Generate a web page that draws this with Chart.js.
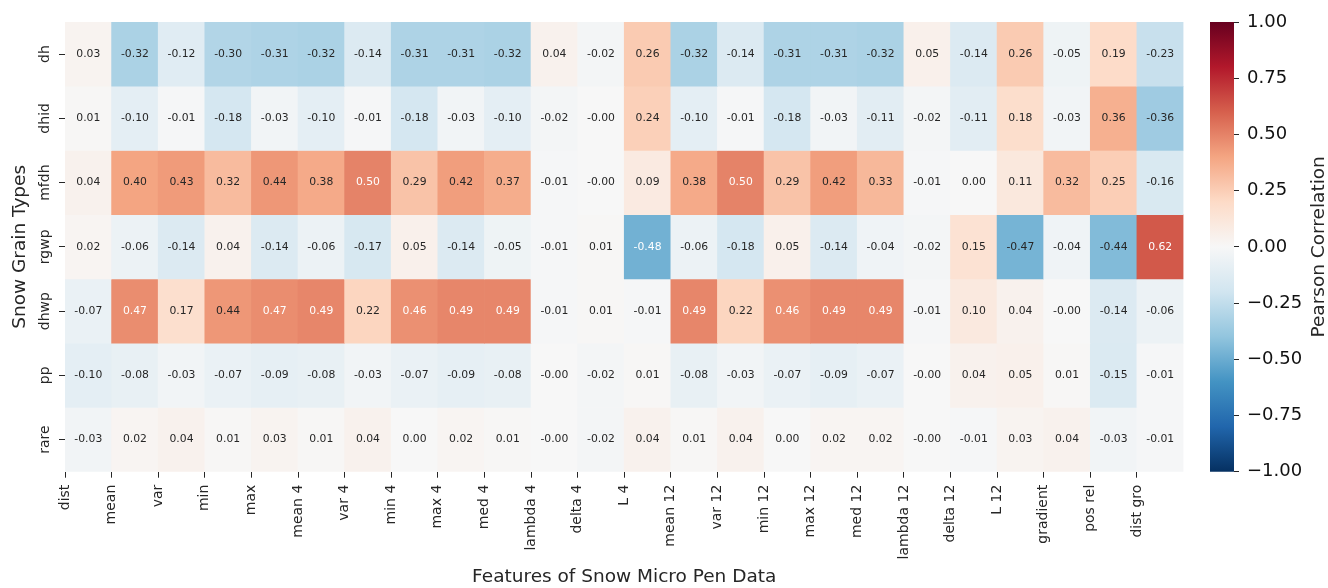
<!DOCTYPE html>
<html>
<head>
<meta charset="utf-8">
<script src="https://cdn.jsdelivr.net/npm/chart.js@4.4.1/dist/chart.umd.min.js"></script>
<style>
  html, body { margin: 0; padding: 0; background: #fff; }
  #wrap { position: relative; width: 1328px; height: 588px; }
  #heat { position: absolute; left: 0; top: 0; }
  #cbar { position: absolute; left: 1190px; top: 0; }
</style>
</head>
<body>
<div id="wrap">
  <canvas id="heat" width="1328" height="588"></canvas>
  <canvas id="cbar" width="138" height="588"></canvas>
</div>
<script>
const features = ['dist', 'mean', 'var', 'min', 'max', 'mean 4', 'var 4', 'min 4', 'max 4', 'med 4',
  'lambda 4', 'delta 4', 'L 4', 'mean 12', 'var 12', 'min 12', 'max 12', 'med 12', 'lambda 12',
  'delta 12', 'L 12', 'gradient', 'pos rel', 'dist gro'];
const grainTypes = ['dh', 'dhid', 'mfdh', 'rgwp', 'dhwp', 'pp', 'rare'];

// correlation per grain type (one value per feature); -0.002 stands for a printed "-0.00"
const dh   = [0.03, -0.32, -0.12, -0.30, -0.31, -0.32, -0.14, -0.31, -0.31, -0.32, 0.04, -0.02, 0.26, -0.32, -0.14, -0.31, -0.31, -0.32, 0.05, -0.14, 0.26, -0.05, 0.19, -0.23];
const dhid = [0.01, -0.10, -0.01, -0.18, -0.03, -0.10, -0.01, -0.18, -0.03, -0.10, -0.02, -0.002, 0.24, -0.10, -0.01, -0.18, -0.03, -0.11, -0.02, -0.11, 0.18, -0.03, 0.36, -0.36];
const mfdh = [0.04, 0.40, 0.43, 0.32, 0.44, 0.38, 0.50, 0.29, 0.42, 0.37, -0.01, -0.002, 0.09, 0.38, 0.50, 0.29, 0.42, 0.33, -0.01, 0.00, 0.11, 0.32, 0.25, -0.16];
const rgwp = [0.02, -0.06, -0.14, 0.04, -0.14, -0.06, -0.17, 0.05, -0.14, -0.05, -0.01, 0.01, -0.48, -0.06, -0.18, 0.05, -0.14, -0.04, -0.02, 0.15, -0.47, -0.04, -0.44, 0.62];
const dhwp = [-0.07, 0.47, 0.17, 0.44, 0.47, 0.49, 0.22, 0.46, 0.49, 0.49, -0.01, 0.01, -0.01, 0.49, 0.22, 0.46, 0.49, 0.49, -0.01, 0.10, 0.04, -0.002, -0.14, -0.06];
const pp   = [-0.10, -0.08, -0.03, -0.07, -0.09, -0.08, -0.03, -0.07, -0.09, -0.08, -0.002, -0.02, 0.01, -0.08, -0.03, -0.07, -0.09, -0.07, -0.002, 0.04, 0.05, 0.01, -0.15, -0.01];
const rare = [-0.03, 0.02, 0.04, 0.01, 0.03, 0.01, 0.04, 0.00, 0.02, 0.01, -0.002, -0.02, 0.04, 0.01, 0.04, 0.00, 0.02, 0.02, -0.002, -0.01, 0.03, 0.04, -0.03, -0.01];
const rows = [dh, dhid, mfdh, rgwp, dhwp, pp, rare];

const cbarMin = -1, cbarMax = 1, cbarStep = 0.25;

// RdBu_r
const rdbu = ['#053061', '#2166ac', '#4393c3', '#92c5de', '#d1e5f0', '#f7f7f7',
  '#fddbc7', '#f4a582', '#d6604d', '#b2182b', '#67001f'];
const rdbuRgb = rdbu.map(h => [1, 3, 5].map(i => parseInt(h.substr(i, 2), 16)));

function cmap(v) {
  let t = (v - cbarMin) / (cbarMax - cbarMin) * 10;
  t = Math.max(0, Math.min(10, t));
  const i = Math.min(9, Math.floor(t)), f = t - i;
  const a = rdbuRgb[i], b = rdbuRgb[i + 1];
  return a.map((c, k) => Math.round(c + (b[k] - c) * f));
}
function lum(rgb) {
  const l = rgb.map(c => { c /= 255; return c <= 0.03928 ? c / 12.92 : Math.pow((c + 0.055) / 1.055, 2.4); });
  return 0.2126 * l[0] + 0.7152 * l[1] + 0.0722 * l[2];
}

const FONT = 'DejaVu Sans';
const INK = '#262626';

// cell labels
const annotate = {
  id: 'annotate',
  afterDatasetsDraw(chart) {
    const ctx = chart.ctx;
    ctx.save();
    ctx.font = '10.8px "' + FONT + '"';
    ctx.textAlign = 'center';
    ctx.textBaseline = 'middle';
    chart.data.datasets.forEach((ds, r) => {
      chart.getDatasetMeta(r).data.forEach((bar, c) => {
        const p = bar.getProps(['x', 'y', 'base'], true);
        const v = rows[r][c];
        ctx.fillStyle = lum(cmap(v)) > 0.408 ? INK : '#ffffff';
        ctx.fillText(v.toFixed(2), p.x, (p.y + p.base) / 2);
      });
    });
    ctx.restore();
  }
};

new Chart(document.getElementById('heat'), {
  type: 'bar',
  data: {
    datasets: grainTypes.map((name, r) => ({
      label: name,
      data: rows[r].map((v, c) => ({ x: c + 0.5, y: 1 })),
      backgroundColor: rows[r].map(v => 'rgb(' + cmap(v).join(',') + ')'),
      borderWidth: 0,
      barPercentage: 1,
      categoryPercentage: 1
    }))
  },
  options: {
    responsive: false,
    animation: false,
    devicePixelRatio: 1,
    layout: { padding: { top: 22, right: 144.5, left: 0, bottom: 0 } },
    plugins: { legend: { display: false }, tooltip: { enabled: false } },
    scales: {
      x: {
        type: 'linear', min: 0, max: features.length, stacked: true, offset: false,
        afterBuildTicks: s => { s.ticks = features.map((f, i) => ({ value: i })); },
        afterFit: s => { s.height = 116.3; },
        grid: { offset: false, drawOnChartArea: false, tickLength: 6, tickColor: INK, tickWidth: 1 },
        border: { display: false },
        ticks: {
          autoSkip: false, minRotation: 90, maxRotation: 90, padding: 7, color: INK,
          font: { family: FONT, size: 14 },
          callback: v => features[v]
        },
        title: {
          display: true, text: 'Features of Snow Micro Pen Data', color: INK,
          font: { family: FONT, size: 18.5 }, padding: { top: 0, bottom: 0 }
        }
      },
      y: {
        type: 'linear', min: 0, max: grainTypes.length, reverse: true, stacked: true,
        afterBuildTicks: s => { s.ticks = grainTypes.map((g, i) => ({ value: i + 0.5 })); },
        afterFit: s => { s.width = 65; },
        grid: { drawOnChartArea: false, tickLength: 6, tickColor: INK, tickWidth: 1 },
        border: { display: false },
        ticks: {
          minRotation: 90, maxRotation: 90, crossAlign: 'center', padding: -5, color: INK,
          font: { family: FONT, size: 14 },
          callback: v => grainTypes[Math.floor(v)]
        },
        title: {
          display: true, text: 'Snow Grain Types', color: INK,
          font: { family: FONT, size: 18.5 }, padding: { top: 9, bottom: 0 }
        }
      }
    }
  },
  plugins: [annotate]
});

// colour bar
const cbarTitle = {
  id: 'cbarTitle',
  afterDraw(chart) {
    const ctx = chart.ctx, a = chart.chartArea;
    ctx.save();
    ctx.translate(129.5, (a.top + a.bottom) / 2);
    ctx.rotate(-Math.PI / 2);
    ctx.font = '18.5px "' + FONT + '"';
    ctx.fillStyle = INK;
    ctx.textAlign = 'center';
    ctx.textBaseline = 'middle';
    ctx.fillText('Pearson Correlation', 0, 0);
    ctx.restore();
  }
};

new Chart(document.getElementById('cbar'), {
  type: 'bar',
  data: {
    labels: [''],
    datasets: [{
      data: [[cbarMin, cbarMax]],
      barPercentage: 1,
      categoryPercentage: 1,
      borderWidth: 0,
      backgroundColor: c => {
        const a = c.chart.chartArea;
        if (!a) return rdbu[5];
        const g = c.chart.ctx.createLinearGradient(0, a.bottom, 0, a.top);
        rdbu.forEach((col, i) => g.addColorStop(i / (rdbu.length - 1), col));
        return g;
      }
    }]
  },
  options: {
    responsive: false,
    animation: false,
    devicePixelRatio: 1,
    layout: { padding: { top: 22, right: 0, left: 20, bottom: 116.3 } },
    plugins: { legend: { display: false }, tooltip: { enabled: false } },
    scales: {
      x: { display: false },
      y: {
        position: 'right', min: cbarMin, max: cbarMax,
        afterFit: s => { s.width = 94; },
        grid: { drawOnChartArea: false, tickLength: 5, tickColor: INK, tickWidth: 1 },
        border: { display: false },
        ticks: {
          stepSize: cbarStep, padding: 8, color: '#111',
          font: { family: FONT, size: 18 },
          callback: v => (v < 0 ? '\u2212' : '') + Math.abs(v).toFixed(2)
        }
      }
    }
  },
  plugins: [cbarTitle]
});
</script>
</body>
</html>
